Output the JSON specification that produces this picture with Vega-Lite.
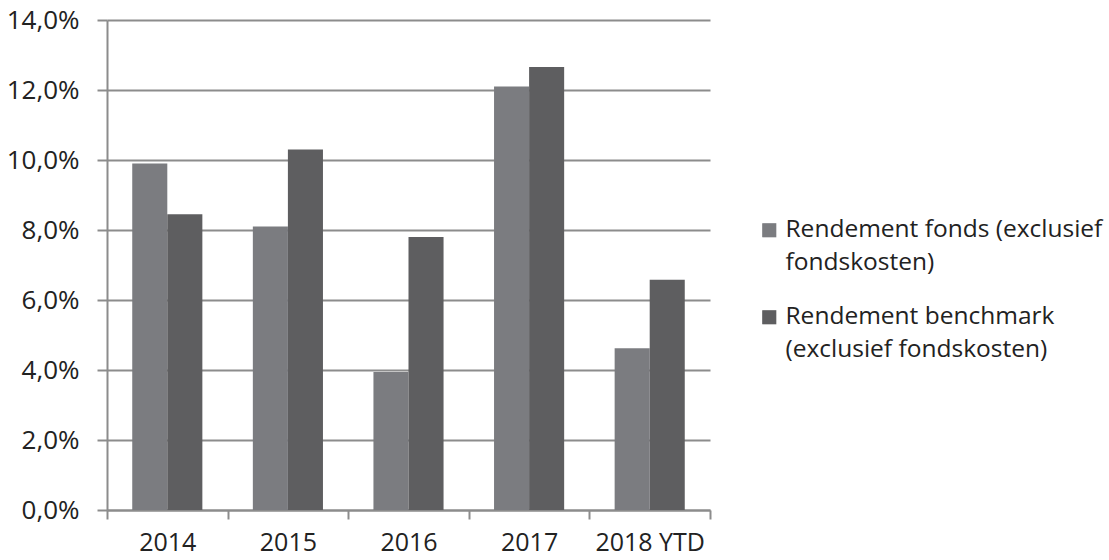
{
  "$schema": "https://vega.github.io/schema/vega-lite/v6.json",
  "width": 603,
  "height": 490,
  "autosize": "none",
  "padding": {"left": 107, "top": 20, "right": 399, "bottom": 50},
  "background": "white",
  "data": {
    "values": [
      {"jaar": "2014", "serie": "Rendement fonds (exclusief fondskosten)", "waarde": 9.9},
      {"jaar": "2014", "serie": "Rendement benchmark (exclusief fondskosten)", "waarde": 8.45},
      {"jaar": "2015", "serie": "Rendement fonds (exclusief fondskosten)", "waarde": 8.1},
      {"jaar": "2015", "serie": "Rendement benchmark (exclusief fondskosten)", "waarde": 10.3},
      {"jaar": "2016", "serie": "Rendement fonds (exclusief fondskosten)", "waarde": 3.94},
      {"jaar": "2016", "serie": "Rendement benchmark (exclusief fondskosten)", "waarde": 7.8},
      {"jaar": "2017", "serie": "Rendement fonds (exclusief fondskosten)", "waarde": 12.1},
      {"jaar": "2017", "serie": "Rendement benchmark (exclusief fondskosten)", "waarde": 12.66},
      {"jaar": "2018 YTD", "serie": "Rendement fonds (exclusief fondskosten)", "waarde": 4.62},
      {"jaar": "2018 YTD", "serie": "Rendement benchmark (exclusief fondskosten)", "waarde": 6.58}
    ]
  },
  "mark": {"type": "bar"},
  "encoding": {
    "x": {
      "field": "jaar", "type": "nominal", "title": null,
      "scale": {"paddingInner": 0, "paddingOuter": 0},
      "axis": {
        "labelAngle": 0, "labelFont": "Open Sans", "labelFontSize": 25, "labelColor": "#222222",
        "labelPadding": 11, "domainColor": "#8c8c8c", "domainWidth": 2,
        "tickColor": "#8c8c8c", "tickWidth": 2, "tickSize": 9, "tickBand": "extent"
      }
    },
    "xOffset": {"field": "serie", "type": "nominal", "sort": ["Rendement fonds (exclusief fondskosten)", "Rendement benchmark (exclusief fondskosten)"], "scale": {"paddingInner": 0, "paddingOuter": 0.72}},
    "y": {
      "field": "waarde", "type": "quantitative", "title": null,
      "scale": {"domain": [0, 14], "nice": false},
      "axis": {
        "values": [0, 2, 4, 6, 8, 10, 12, 14],
        "labelExpr": "replace(format(datum.value, '.1f'), '.', ',') + '%'",
        "labelFont": "Open Sans", "labelFontSize": 26, "labelColor": "#222222",
        "labelPadding": 18, "labelLimit": 120,
        "grid": true, "gridColor": "#8c8c8c", "gridWidth": 2,
        "domainColor": "#8c8c8c", "domainWidth": 2,
        "tickColor": "#8c8c8c", "tickWidth": 2, "tickSize": 10
      }
    },
    "color": {
      "field": "serie", "type": "nominal",
      "sort": ["Rendement fonds (exclusief fondskosten)", "Rendement benchmark (exclusief fondskosten)"],
      "scale": {"range": ["#7b7c80", "#5e5e60"]},
      "legend": {
        "title": null, "orient": "none", "legendX": 650, "legendY": 198,
        "symbolType": "square", "symbolSize": 200, "symbolStrokeWidth": 0,
        "labelFont": "Open Sans", "labelFontSize": 24.5, "labelColor": "#222222",
        "labelLimit": 400, "labelOffset": 4, "rowPadding": 29,
        "labelExpr": "datum.label == 'Rendement fonds (exclusief fondskosten)' ? ['Rendement fonds (exclusief', 'fondskosten)'] : ['Rendement benchmark', '(exclusief fondskosten)']"
      }
    }
  },
  "config": {"view": {"stroke": null}, "style": {"guide-label": {"lineHeight": 33}}}
}
